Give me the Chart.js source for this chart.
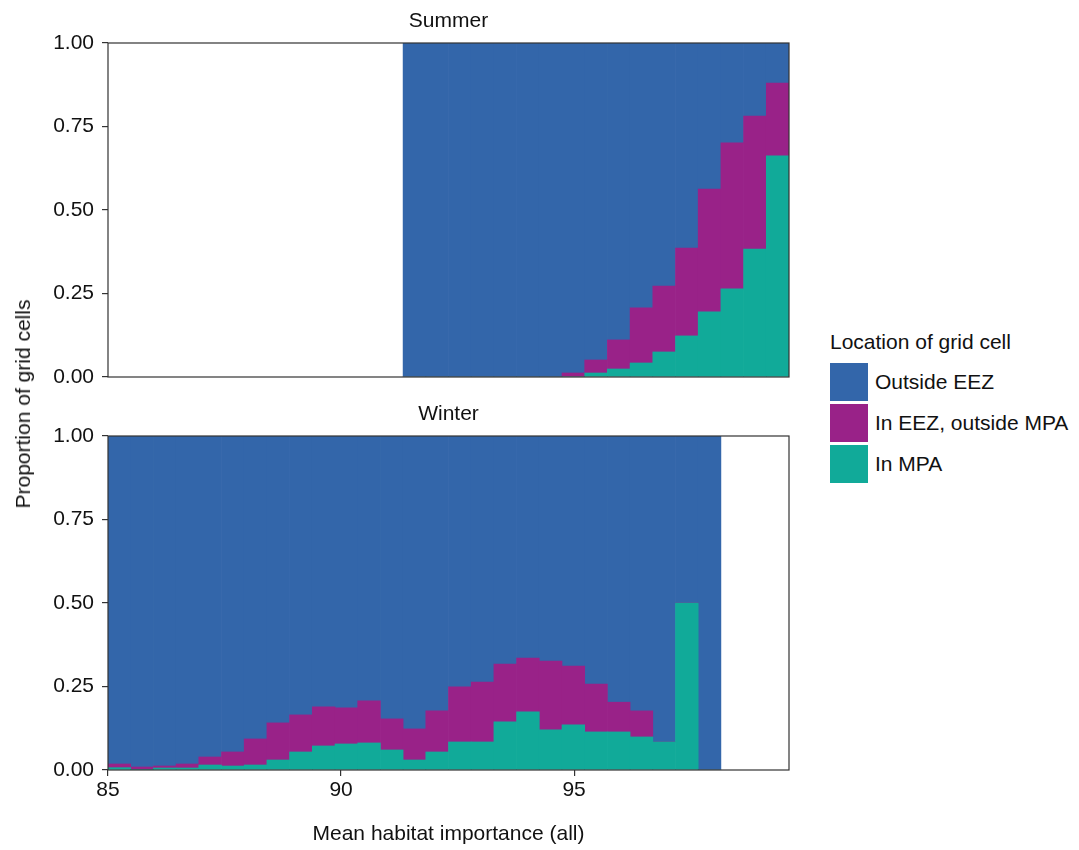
<!DOCTYPE html>
<html>
<head>
<meta charset="utf-8">
<script src="https://cdn.jsdelivr.net/npm/chart.js@4/dist/chart.umd.min.js"></script>
<style>
	body { margin: 0; background: #fff; font-family: "Liberation Sans", Arial, sans-serif; color: #111; }
	#page { position: relative; width: 1079px; height: 850px; }
	#summer_box { position: absolute; left: 0; top: 0; width: 800px; height: 392px; }
	#winter_box { position: absolute; left: 0; top: 393px; width: 800px; height: 457px; }
	#ytitle { position: absolute; left: 23px; top: 404px; transform: translate(-50%, -50%) rotate(-90deg); font-size: 21px; white-space: nowrap; }
	#legend { position: absolute; left: 830px; top: 330px; font-size: 21px; }
	#legend .ltitle { height: 31px; line-height: 24px; }
	#legend .row { height: 41px; display: flex; align-items: center; }
	#legend .key { width: 38px; height: 38px; margin-right: 7px; }
</style>
</head>
<body>
<div id="page">
	<div id="summer_box"><canvas id="summer"></canvas></div>
	<div id="winter_box"><canvas id="winter"></canvas></div>
	<div id="ytitle">Proportion of grid cells</div>
	<div id="legend"></div>
</div>
<script>
//======================================================================================================
// Data (30 histogram bins, proportion in each location class)
//======================================================================================================
var binStart = 85;
var binWidth = 0.487;
var nBins = 30;
var xTicks = [85, 90, 95];
var yTicks = [0, 0.25, 0.5, 0.75, 1];
var seriesNames = ["Outside EEZ", "In EEZ, outside MPA", "In MPA"];
var seriesColors = ["#3366AA", "#992288", "#11AA99"];

// Summer: bins 0-12 are empty
var summerOutside = [null,null,null,null,null,null,null,null,null,null,null,null,null,
	1, 1, 1, 1, 1, 1, 1, 0.988, 0.949, 0.889, 0.793, 0.728, 0.614, 0.437, 0.299, 0.219, 0.120];
var summerEEZ = [null,null,null,null,null,null,null,null,null,null,null,null,null,
	0, 0, 0, 0, 0, 0, 0, 0.012, 0.039, 0.087, 0.165, 0.197, 0.263, 0.368, 0.437, 0.398, 0.218];
var summerMPA = [null,null,null,null,null,null,null,null,null,null,null,null,null,
	0, 0, 0, 0, 0, 0, 0, 0, 0.012, 0.024, 0.042, 0.075, 0.123, 0.195, 0.264, 0.383, 0.662];

// Winter: bins 27-29 are empty
var winterOutside = [0.982, 0.991, 0.988, 0.982, 0.961, 0.946, 0.907, 0.859, 0.835, 0.811,
	0.814, 0.793, 0.847, 0.877, 0.823, 0.751, 0.737, 0.683, 0.665, 0.674,
	0.689, 0.743, 0.797, 0.823, 0.916, 0.5, 1, null, null, null];
var winterEEZ = [0.011, 0.007, 0.006, 0.012, 0.024, 0.042, 0.078, 0.111, 0.111, 0.117,
	0.108, 0.126, 0.093, 0.093, 0.123, 0.165, 0.179, 0.173, 0.161, 0.206,
	0.176, 0.143, 0.089, 0.078, 0, 0, 0, null, null, null];
var winterMPA = [0.007, 0.002, 0.006, 0.006, 0.015, 0.012, 0.015, 0.030, 0.054, 0.072,
	0.078, 0.081, 0.060, 0.030, 0.054, 0.084, 0.084, 0.144, 0.174, 0.120,
	0.135, 0.114, 0.114, 0.099, 0.084, 0.5, 0, null, null, null];

//======================================================================================================
var FONT = "'Liberation Sans', Arial, sans-serif";
var FSIZE = 21;
var INK = "#111";
var FRAME = "#333";
var binLabels = [];
for (var i = 0; i < nBins; i++)
	binLabels.push((binStart + (i + 0.5) * binWidth).toFixed(2));

// draws the panel box and the strip title centred over the plotting area
var framePlugin = {
	id: 'frame',
	afterDatasetsDraw: function(chart, args, opts) {
		var a = chart.chartArea, ctx = chart.ctx;
		ctx.save();
		ctx.strokeStyle = FRAME;
		ctx.lineWidth = 1.2;
		ctx.strokeRect(a.left, a.top, a.right - a.left, a.bottom - a.top);
		ctx.fillStyle = INK;
		ctx.font = FSIZE + "px " + FONT;
		ctx.textAlign = "center";
		ctx.textBaseline = "middle";
		ctx.fillText(opts.text, (a.left + a.right) / 2, 21);
		ctx.restore();
	}
};

function Make_Panel(id, title, outside, eez, mpa, showX)
{
	var data = [mpa, eez, outside];
	var datasets = [];
	for (var k = 0; k < 3; k++)
	{
		var s = 2 - k;
		datasets.push({
			label: seriesNames[s],
			data: data[k],
			backgroundColor: seriesColors[s],
			borderWidth: 0,
			barPercentage: 1,
			categoryPercentage: 1
		});
	}
	var xt = {
		type: 'linear',
		position: 'bottom',
		display: showX,
		min: binStart,
		max: binStart + nBins * binWidth,
		offset: false,
		afterBuildTicks: function(scale) {
			scale.ticks = xTicks.map(function(v) { return { value: v }; });
		},
		grid: { offset: false, drawOnChartArea: false, drawTicks: true, tickLength: 6, color: FRAME, lineWidth: 1.2 },
		border: { display: false },
		ticks: { color: INK, font: { family: FONT, size: FSIZE }, padding: 2, maxRotation: 0 },
		title: {
			display: true,
			text: 'Mean habitat importance (all)',
			color: INK,
			font: { family: FONT, size: FSIZE },
			padding: { top: 0, bottom: 3 }
		}
	};
	if (showX)
		xt.afterFit = function(scale) { scale.height = 80; };

	return new Chart(document.getElementById(id), {
		type: 'bar',
		data: { labels: binLabels, datasets: datasets },
		plugins: [framePlugin],
		options: {
			responsive: true,
			maintainAspectRatio: false,
			animation: false,
			layout: { padding: { top: 43, right: 11, bottom: showX ? 0 : 15, left: 0 } },
			plugins: {
				legend: { display: false },
				tooltip: { enabled: false },
				frame: { text: title }
			},
			scales: {
				x: { stacked: true, display: false },
				xt: xt,
				y: {
					stacked: true,
					min: 0,
					max: 1,
					afterBuildTicks: function(scale) {
						scale.ticks = yTicks.map(function(v) { return { value: v }; });
					},
					afterFit: function(scale) {
						scale.width = 108;
						// labels may overhang the panel, don't reserve room for them
						scale.paddingTop = 0;
						scale.paddingBottom = 0;
					},
					grid: { drawOnChartArea: false, drawTicks: true, tickLength: 6, color: FRAME, lineWidth: 1.2 },
					border: { display: false },
					ticks: {
						color: INK,
						font: { family: FONT, size: FSIZE },
						padding: 8,
						callback: function(v) { return v.toFixed(2); }
					}
				}
			}
		}
	});
}

function Make_Legend()
{
	var html = '<div class="ltitle">Location of grid cell</div>';
	for (var s = 0; s < seriesNames.length; s++)
		html += '<div class="row"><div class="key" style="background:' + seriesColors[s] + '"></div>' + seriesNames[s] + '</div>';
	document.getElementById('legend').innerHTML = html;
}

Make_Panel('summer', 'Summer', summerOutside, summerEEZ, summerMPA, false);
Make_Panel('winter', 'Winter', winterOutside, winterEEZ, winterMPA, true);
Make_Legend();
</script>
</body>
</html>
